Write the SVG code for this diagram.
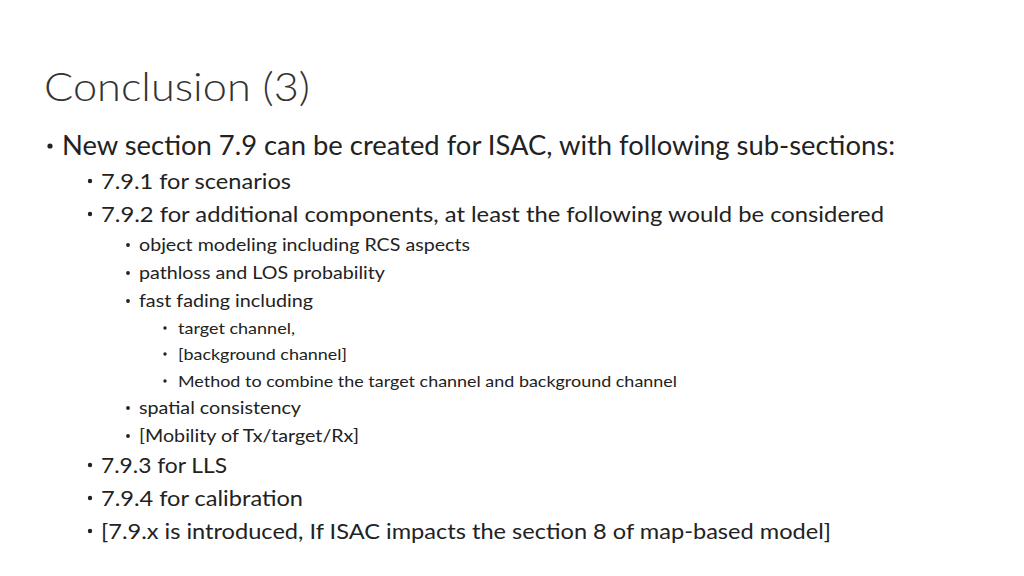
<svg xmlns="http://www.w3.org/2000/svg" width="1024" height="576" viewBox="0 0 1024 576">
<style>
text{font-family:Lato,"Open Sans","Liberation Sans",sans-serif;fill:#222}
.t{font-size:40px;fill:#333;font-weight:300}
.l1{font-size:26px}.l2{font-size:22px}.l3{font-size:18px}.l4{font-size:16px}
.b{fill:#222}
</style>
<rect width="1024" height="576" fill="#fff"/>
<text class="t" x="44" y="101" textLength="266" lengthAdjust="spacingAndGlyphs">Conclusion (3)</text>
<g class="b">
<circle cx="50" cy="146" r="2.6"/>
<circle cx="90" cy="181" r="2.2"/><circle cx="90" cy="214" r="2.2"/><circle cx="90" cy="465" r="2.2"/><circle cx="90" cy="498" r="2.2"/><circle cx="90" cy="531" r="2.2"/>
<circle cx="128" cy="245" r="1.9"/><circle cx="128" cy="273" r="1.9"/><circle cx="128" cy="301" r="1.9"/><circle cx="128" cy="408" r="1.9"/><circle cx="128" cy="436" r="1.9"/>
<circle cx="165" cy="328" r="1.7"/><circle cx="165" cy="354" r="1.7"/><circle cx="165" cy="381" r="1.7"/>
</g>
<text class="l1" x="62" y="155" textLength="833" lengthAdjust="spacingAndGlyphs">New section 7.9 can be created for ISAC, with following sub-sections:</text>
<text class="l2" x="101" y="189" textLength="190" lengthAdjust="spacingAndGlyphs">7.9.1 for scenarios</text>
<text class="l2" x="101" y="222" textLength="783" lengthAdjust="spacingAndGlyphs">7.9.2 for additional components, at least the following would be considered</text>
<text class="l2" x="101" y="473" textLength="126" lengthAdjust="spacingAndGlyphs">7.9.3 for LLS</text>
<text class="l2" x="101" y="506" textLength="202" lengthAdjust="spacingAndGlyphs">7.9.4 for calibration</text>
<text class="l2" x="101" y="539" textLength="730" lengthAdjust="spacingAndGlyphs">[7.9.x is introduced, If ISAC impacts the section 8 of map-based model]</text>
<text class="l3" x="139" y="251" textLength="331" lengthAdjust="spacingAndGlyphs">object modeling including RCS aspects</text>
<text class="l3" x="139" y="279" textLength="246" lengthAdjust="spacingAndGlyphs">pathloss and LOS probability</text>
<text class="l3" x="139" y="307" textLength="174" lengthAdjust="spacingAndGlyphs">fast fading including</text>
<text class="l3" x="139" y="414" textLength="162" lengthAdjust="spacingAndGlyphs">spatial consistency</text>
<text class="l3" x="139" y="442" textLength="220" lengthAdjust="spacingAndGlyphs">[Mobility of Tx/target/Rx]</text>
<text class="l4" x="178" y="334" textLength="117" lengthAdjust="spacingAndGlyphs">target channel,</text>
<text class="l4" x="178" y="360" textLength="169" lengthAdjust="spacingAndGlyphs">[background channel]</text>
<text class="l4" x="178" y="387" textLength="499" lengthAdjust="spacingAndGlyphs">Method to combine the target channel and background channel</text>
</svg>
